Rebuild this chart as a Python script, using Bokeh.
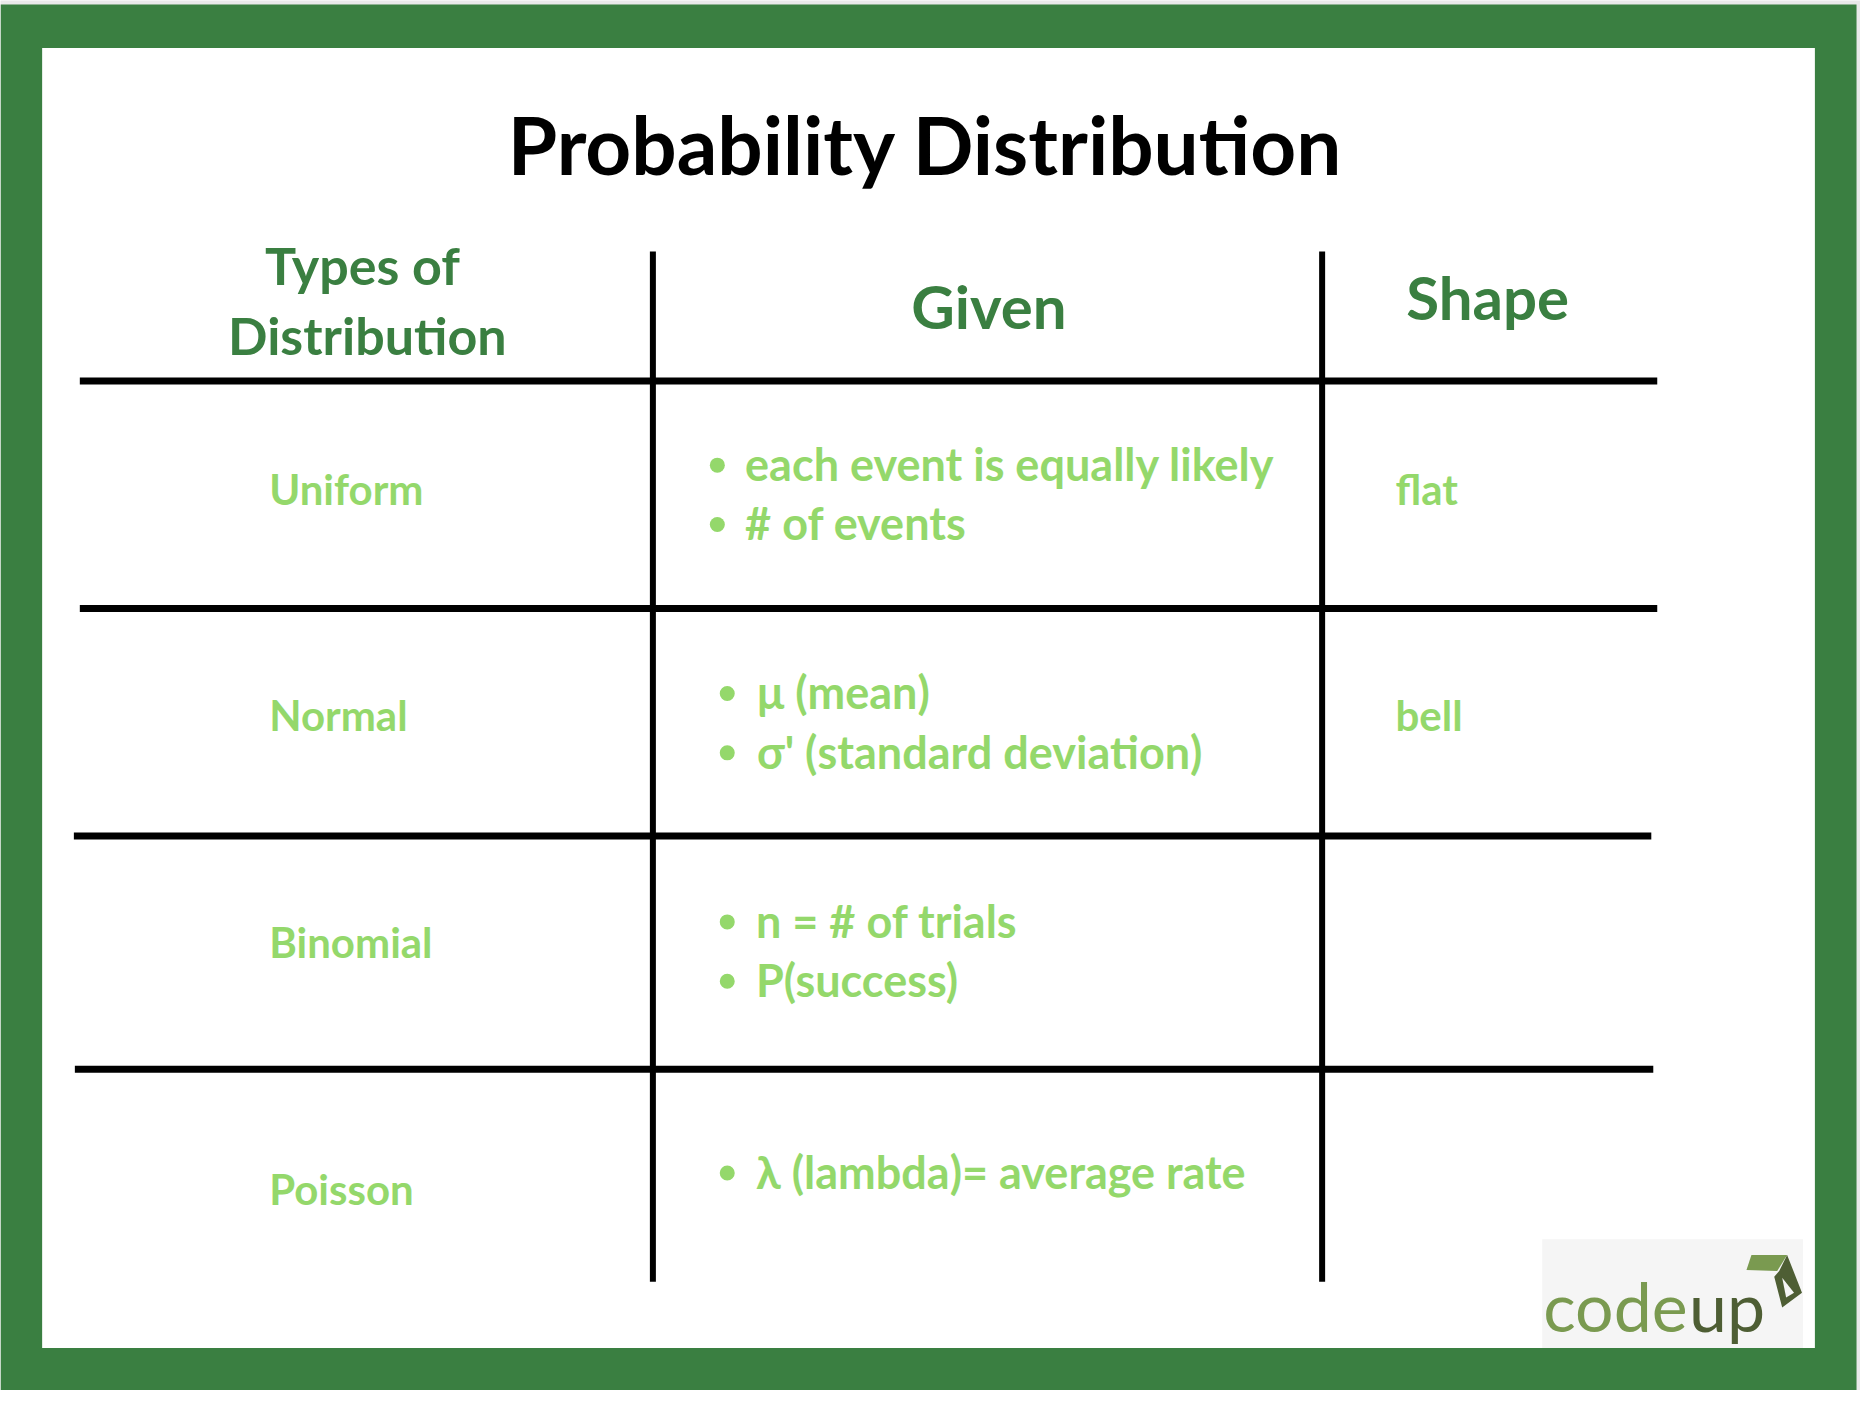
from bokeh.plotting import figure
from bokeh.core.properties import value
from bokeh.embed import file_html
from bokeh.resources import INLINE

title = "Probability Distribution"
headers = ["Types of", "Distribution", "Given", "Shape"]
distributions = ["Uniform", "Normal", "Binomial", "Poisson"]
given = [
    ["each event is equally likely", "# of events"],
    ["μ (mean)", "σ' (standard deviation)"],
    ["n = # of trials", "P(success)"],
    ["λ (lambda)= average rate"],
]
shapes = ["flat", "bell", "", ""]

# layout (pixel coordinates of the 1876x1406 picture, text baselines)
header_x = [365, 370, 997, 1500]
header_y = [285, 356, 329, 320]
header_size = [52, 52, 60, 60]
row_y = [508, 737, 967, 1216]
given_y = [484, 715, 946, 1200]
bullet_x = [723, 733, 733, 733]
given_x = [751, 763, 762, 762]
line_gap = 60
label_x = 271
shape_x = 1407

h_x0 = [80, 80, 74, 75]
h_x1 = [1671, 1671, 1665, 1667]
h_y = [385, 615, 845, 1081]
v_x = [658, 1333]
v_y0, v_y1 = 254, 1296

DARK = "#3a7f41"
LIGHT = "#94d86b"
FONT = value("Lato")


def base(y, size):
    # svg text sits lower than the alphabetic baseline asked for
    return y - 0.34 * size


p = figure(width=1860, height=1390, x_range=(0, 1876), y_range=(1406, 0),
           output_backend="svg", toolbar_location=None, min_border=0)
p.axis.visible = False
p.grid.visible = False
p.outline_line_color = None
p.border_fill_color = "#e9e9e9"
p.background_fill_color = "#e9e9e9"

# frame
p.quad(left=0, right=1872, top=4, bottom=1406, fill_color=DARK, line_color=None)
p.quad(left=42, right=1830, top=48, bottom=1363, fill_color="white", line_color=None)

p.text(x=[933], y=[base(172, 80)], text=[title], text_font=FONT, text_font_style="bold",
       text_font_size="80px", text_color="black", text_align="center",
       text_baseline="alphabetic")

p.text(x=header_x, y=[base(y, s) for y, s in zip(header_y, header_size)], text=headers,
       text_font=FONT, text_font_style="bold",
       text_font_size=[f"{s}px" for s in header_size], text_color=DARK,
       text_align="center", text_baseline="alphabetic")

# grid lines
p.segment(x0=h_x0, x1=h_x1, y0=h_y, y1=h_y, line_color="black", line_width=7)
p.segment(x0=v_x, x1=v_x, y0=[v_y0] * 2, y1=[v_y1] * 2, line_color="black", line_width=6)

p.text(x=[label_x] * len(distributions), y=[base(y, 42) for y in row_y], text=distributions,
       text_font=FONT, text_font_style="bold", text_font_size="42px", text_color=LIGHT,
       text_align="left", text_baseline="alphabetic")

p.text(x=[shape_x] * len(shapes), y=[base(y, 42) for y in row_y], text=shapes,
       text_font=FONT, text_font_style="bold", text_font_size="42px", text_color=LIGHT,
       text_align="left", text_baseline="alphabetic")

gx, gy, gt, bx, by = [], [], [], [], []
for i, items in enumerate(given):
    for j, item in enumerate(items):
        y = given_y[i] + j * line_gap
        gx.append(given_x[i])
        gy.append(base(y, 45))
        gt.append(item)
        bx.append(bullet_x[i])
        by.append(y - 14)

p.scatter(x=bx, y=by, marker="circle", size=15, fill_color=LIGHT, line_color=None)
p.text(x=gx, y=gy, text=gt, text_font=FONT, text_font_style="bold",
       text_font_size="45px", text_color=LIGHT, text_align="left",
       text_baseline="alphabetic")

# logo
p.quad(left=1555, right=1818, top=1253, bottom=1363, fill_color="#f5f5f5", line_color=None)
p.text(x=[1556], y=[base(1343, 68)], text=["code"], text_font=FONT, text_font_size="68px",
       text_color="#7a9a50", text_baseline="alphabetic")
p.text(x=[1703], y=[base(1343, 68)], text=["up"], text_font=FONT, text_font_size="68px",
       text_color="#4e5e34", text_baseline="alphabetic")
p.patch(x=[1766, 1802, 1792, 1761], y=[1269, 1269, 1285, 1284],
        fill_color="#7a9a50", line_color=None)
p.patch(x=[1802, 1817, 1797, 1789, 1794], y=[1269, 1307, 1322, 1291, 1285],
        fill_color="#4e5e34", line_color=None)
p.patch(x=[1797, 1809, 1801], y=[1292, 1307, 1312],
        fill_color="#f5f5f5", line_color=None)

open("out.html", "w").write(file_html(p, INLINE))
